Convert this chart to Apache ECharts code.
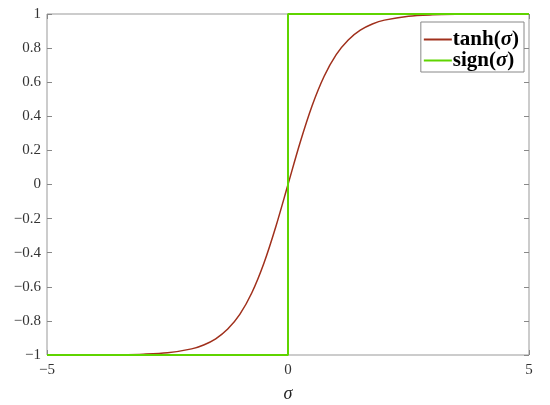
<!DOCTYPE html>
<html>
<head>
<meta charset="utf-8">
<script src="https://cdn.jsdelivr.net/npm/echarts@6/dist/echarts.min.js"></script>
<style>
  html, body { margin: 0; padding: 0; background: #fff; }
  #chart { width: 550px; height: 405px; }
</style>
</head>
<body>
<div id="chart"></div>
<script>
// values
var sigma = [-5, -4, -3.5, -3, -2.5, -2, -1.75, -1.5, -1.25, -1, -0.75, -0.5, -0.25, 0,
             0.25, 0.5, 0.75, 1, 1.25, 1.5, 1.75, 2, 2.5, 3, 3.5, 4, 5];
var tanhVals = [-1, -0.999, -0.998, -0.995, -0.987, -0.964, -0.941, -0.905, -0.848, -0.762, -0.635, -0.462, -0.245, 0,
                0.245, 0.462, 0.635, 0.762, 0.848, 0.905, 0.941, 0.964, 0.987, 0.995, 0.998, 0.999, 1];
var signX = [-5, 0, 0, 5];
var signVals = [-1, -1, 1, 1];
var seriesNames = ['tanh', 'sign'];

var fontSerif = '"Liberation Serif", "DejaVu Serif", serif';

function pairs(xs, ys) {
    var out = [];
    for (var i = 0; i < xs.length; i++) out.push([xs[i], ys[i]]);
    return out;
}
function fmtNum(v) {
    return String(Math.round(v * 10) / 10).replace('-', '\u2212');
}

var myChart = echarts.init(document.getElementById('chart'));
var tickStyle = { inside: true, length: 5, lineStyle: { color: '#888' } };
var noLine = { show: false, onZero: false };
var option = {
    animation: false,
    grid: {
        left: 47, right: 21, top: 14, bottom: 50,
        containLabel: false, outerBoundsMode: 'none',
        show: true, borderColor: '#999', borderWidth: 1
    },
    legend: {
        right: 26, top: 22,
        orient: 'vertical',
        itemGap: 0,
        itemWidth: 28,
        itemHeight: 2,
        padding: [7, 5, 1, 3],
        borderColor: '#888',
        borderWidth: 1,
        backgroundColor: '#fff',
        icon: 'rect',
        data: seriesNames,
        formatter: function (name) {
            return '{b|' + name + '(}{i|\u03C3}{b|)}';
        },
        textStyle: {
            padding: [0, 0, 0, -4],
            rich: {
                b: { fontFamily: fontSerif, fontWeight: 'bold', fontSize: 21, color: '#000', height: 21 },
                i: { fontFamily: fontSerif, fontStyle: 'italic', fontWeight: 'bold', fontSize: 21, color: '#000', height: 21 }
            }
        }
    },
    xAxis: [{
        type: 'value', min: -5, max: 5, interval: 5,
        name: '\u03C3', nameLocation: 'middle', nameGap: 30,
        nameTextStyle: { fontFamily: fontSerif, fontStyle: 'italic', fontSize: 18, color: '#222' },
        axisLine: noLine,
        axisTick: tickStyle,
        splitLine: { show: false },
        axisLabel: { fontFamily: fontSerif, fontSize: 15, color: '#333', margin: 8, formatter: fmtNum }
    }, {
        type: 'value', min: -5, max: 5, interval: 5, position: 'top',
        axisLine: noLine, axisTick: tickStyle,
        splitLine: { show: false }, axisLabel: { show: false }
    }],
    yAxis: [{
        type: 'value', min: -1, max: 1, interval: 0.2,
        axisLine: noLine,
        axisTick: tickStyle,
        splitLine: { show: false },
        axisLabel: { fontFamily: fontSerif, fontSize: 15, color: '#333', margin: 6, formatter: fmtNum }
    }, {
        type: 'value', min: -1, max: 1, interval: 0.2, position: 'right',
        axisLine: noLine, axisTick: tickStyle,
        splitLine: { show: false }, axisLabel: { show: false }
    }],
    series: [{
        name: 'tanh',
        type: 'line',
        data: pairs(sigma, tanhVals),
        smooth: 0.3,
        showSymbol: false,
        color: '#a0301c',
        lineStyle: { width: 1.5, color: '#a0301c' }
    }, {
        name: 'sign',
        type: 'line',
        data: pairs(signX, signVals),
        showSymbol: false,
        color: '#5fd400',
        lineStyle: { width: 2, color: '#5fd400' }
    }]
};
myChart.setOption(option);
</script>
</body>
</html>
